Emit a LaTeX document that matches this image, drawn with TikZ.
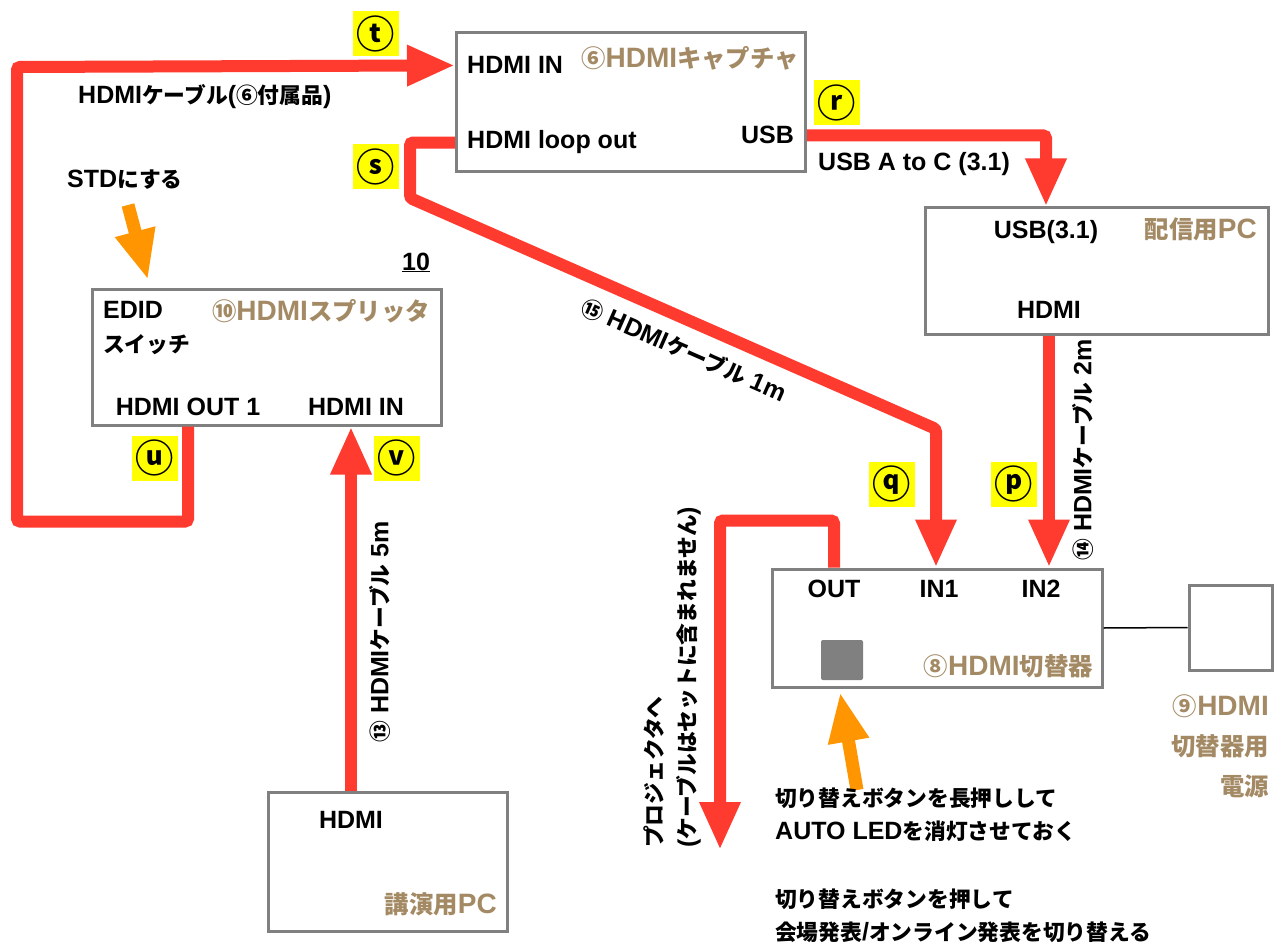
\documentclass[tikz,border=0pt]{standalone}
\usepackage{fontspec}
\usepackage{tikz}
\usetikzlibrary{arrows.meta, positioning, calc}
\setmainfont{Liberation Sans}
\newfontfamily\jpfont[Scale=0.87]{Noto Sans CJK JP}
\newcommand{\jp}[1]{{\jpfont #1}}
\definecolor{cablered}{HTML}{FF3B30}
\definecolor{hintorange}{HTML}{FF9500}
\definecolor{boxgray}{HTML}{808080}
\definecolor{namebrown}{HTML}{A38A64}
\definecolor{tagyellow}{HTML}{FFFF00}

\begin{document}
\begin{tikzpicture}[
  x=1pt, y=-1pt,
  devbox/.style={
    rectangle,
    draw=boxgray,
    line width=3pt,
    fill=white,
    inner sep=0pt
  },
  port/.style={font=\fontsize{25}{33}\selectfont\bfseries, inner sep=0pt},
  devname/.style={font=\fontsize{28}{40}\selectfont\bfseries, text=namebrown, inner sep=0pt},
  tag/.style={
    rectangle,
    fill=tagyellow,
    minimum width=46pt,
    minimum height=45pt,
    inner sep=0pt,
    font=\jpfont\fontsize{44}{44}\selectfont\bfseries
  },
  cable/.style={-{Triangle[length=48pt, width=38pt]}, line width=12pt, cablered, rounded corners=3pt},
  hint/.style={-{Triangle[length=50pt, width=38pt]}, line width=13pt, hintorange}
]
  \path[use as bounding box, fill=white] (0,0) rectangle (1274,944);

  \node[devbox, minimum width=349pt, minimum height=139pt] (capture) at (631,102.5) {};
  \node[port, anchor=base west] (capin) at (467,74) {HDMI IN};
  \node[port, anchor=base west] (caploop) at (467,149) {HDMI loop out};
  \node[port, anchor=base east] (capusb) at (794,144) {USB};
  \node[devname, anchor=base east] (capname) at (799,68) {\jp{⑥}HDMI\jp{キャプチャ}};

  \node[devbox, minimum width=343pt, minimum height=126pt] (distpc) at (1096.5,271) {};
  \node[port, anchor=base] (dpcusb) at (1046,238) {USB(3.1)};
  \node[port, anchor=base] (dpchdmi) at (1049,318) {HDMI};
  \node[devname, anchor=base east] (dpcname) at (1257,239) {\jp{配信用}PC};

  \node[devbox, minimum width=349pt, minimum height=136pt] (splitter) at (266.5,357) {};
  \node[port, anchor=base west] (edid) at (103,318) {EDID};
  \node[port, anchor=base west] (edidsw) at (103,352) {\jp{スイッチ}};
  \node[devname, anchor=base east] (splname) at (430,320) {\jp{⑩}HDMI\jp{スプリッタ}};
  \node[port, anchor=base] (splout) at (188,415) {HDMI OUT 1};
  \node[port, anchor=base] (splin) at (356,415) {HDMI IN};
  \node[port, anchor=base] (splnum) at (416,270) {\underline{10}};

  \node[devbox, minimum width=330pt, minimum height=118pt] (switcher) at (937,628) {};
  \node[port, anchor=base] (swout) at (834,597) {OUT};
  \node[port, anchor=base] (swinone) at (939,597) {IN1};
  \node[port, anchor=base] (swintwo) at (1041,597) {IN2};
  \node[rectangle, fill=boxgray, minimum width=42pt, minimum height=40pt, inner sep=0pt, rounded corners=2pt] (swbutton) at (842,660) {};
  \node[devname, anchor=base east] (swname) at (1093,675) {\jp{⑧}HDMI\jp{切替器}};

  \node[devbox, minimum width=83pt, minimum height=85pt] (power) at (1230.5,627.5) {};
  \node[devname, anchor=east, align=right] (powername) at (1269,746) {\jp{⑨}HDMI\\\jp{切替器用}\\\jp{電源}};

  \node[devbox, minimum width=239pt, minimum height=139pt] (lecpc) at (387.5,862) {};
  \node[port, anchor=base] (lechdmi) at (351,828) {HDMI};
  \node[devname, anchor=base east] (lecname) at (497,913) {\jp{講演用}PC};

  \coordinate (sbend) at (936,429);
  \coordinate (proj) at (720,850);

  \draw[cable] (splitter.south -| splout) -- ++(0,95) -| (17,67) -- (capture.west |- capin);
  \draw[cable] (capture.west |- caploop) -| (410,198) -- (sbend) -- (switcher.north -| sbend);
  \draw[cable] (capture.east |- capusb) -| (distpc.north -| dpcusb);
  \draw[cable] (distpc.south -| dpchdmi) -- (switcher.north -| dpchdmi);
  \draw[cable] (switcher.north -| swout) -- ++(0,-47) -| (proj);
  \draw[cable] (lecpc.north -| lechdmi) -- (splitter.south -| lechdmi);
  \draw[line width=1.5pt] (switcher.east) -- (power.west);

  \node[port, anchor=base west] (tcable) at (78,104) {HDMI\jp{ケーブル}(\jp{⑥付属品})};
  \node[port, anchor=base west] (rcable) at (818,171) {USB A to C (3.1)};
  \node[port, rotate=-23.7] (scable) at (684,350) {\jp{⑮} HDMI\jp{ケーブル} 1m};
  \node[port, rotate=90] (pcable) at (1083,450) {\jp{⑭} HDMI\jp{ケーブル} 2m};
  \node[port, rotate=90] (vcable) at (380,632) {\jp{⑬} HDMI\jp{ケーブル} 5m};
  \node[port, rotate=90, anchor=south west, align=left] (projcable) at (701,848) {\jp{プロジェクタへ}\\(\jp{ケーブルはセットに含まれません})};

  \node[tag] (tagt) at (376,34) {ⓣ};
  \node[tag] (tags) at (376,167) {ⓢ};
  \node[tag] (tagr) at (837,103) {ⓡ};
  \node[tag] (tagu) at (155,458) {ⓤ};
  \node[tag] (tagv) at (397,458) {ⓥ};
  \node[tag] (tagq) at (892,484) {ⓠ};
  \node[tag] (tagp) at (1014,484) {ⓟ};

  \node[port, anchor=base west] (std) at (67,188) {STD\jp{にする}};
  \coordinate (stdtail) at (128,205);
  \coordinate (stdtip) at (148,280);
  \draw[hint] (stdtail) -- (stdtip);

  \coordinate (btntail) at (857,790);
  \coordinate (btntip) at (840,692);
  \draw[hint] (btntail) -- (btntip);
  \node[port, anchor=west, align=left] (longpress) at (775,815) {\jp{切り替えボタンを長押しして}\\AUTO LED\jp{を消灯させておく}};
  \node[port, anchor=west, align=left] (press) at (775,916) {\jp{切り替えボタンを押して}\\\jp{会場発表}/\jp{オンライン発表を切り替える}};
\end{tikzpicture}
\end{document}
